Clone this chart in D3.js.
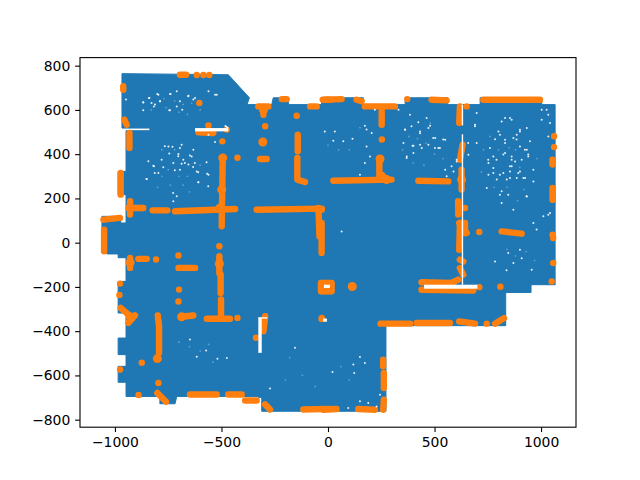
<!DOCTYPE html>
<html><head><meta charset="utf-8">
<script src="https://cdn.jsdelivr.net/npm/d3@7"></script>
<style>html,body{margin:0;background:#fff}svg{display:block}text{font-family:"DejaVu Sans",sans-serif}</style>
</head><body><svg id="c" width="640" height="480"></svg>
<script>
const xTicks=[-1000,-500,0,500,1000];
const yTicks=[-800,-600,-400,-200,0,200,400,600,800];
const blueOutline=[[-967,764],[-468,759],[-369,655],[-380,624],[-264,624],[-257,655],[-186,655],[-186,624],[-30,624],[-30,655],[166,655],[166,624],[362,624],[362,655],[562,655],[562,624],[714,624],[714,655],[1003,655],[1003,624],[1066,624],[1066,-190],[953,-190],[953,-225],[834,-225],[834,-375],[272,-375],[272,-762],[-311,-762],[-311,-700],[-327,-700],[-327,-695],[-710,-695],[-718,-728],[-789,-728],[-789,-695],[-948,-695],[-948,-631],[-985,-631],[-985,-559],[-948,-559],[-948,-506],[-985,-506],[-985,-431],[-948,-431],[-948,-318],[-985,-318],[-985,-175],[-948,-175],[-948,-68],[-985,-68],[-985,-51],[-1031,-51],[-1061,-45],[-1061,119],[-973,119],[-973,89],[-948,89],[-948,217],[-985,217],[-985,322],[-948,322],[-948,506],[-836,506],[-836,518],[-967,518]];
const orangeRuns=[
[[-695,759],[-666,759]],[[-961,707],[-961,691]],[[-956,556],[-945,533]],[[-303,609],[-303,578]],[[-327,616],[-280,616]],[[-217,649],[-194,649]],[[-84,616],[-53,616]],[[-14,646],[10,646]],[[-319,378],[-288,378]],[[-142,488],[-142,413]],[[-144,383],[-144,285],[-108,274]],[[-932,496],[-932,428]],[[-973,315],[-973,217]],[[-608,499],[-538,496]],[[-494,383],[-499,74]],[[-937,157],[-867,157]],[[-929,187],[-929,127]],[[-823,146],[-754,146]],[[-718,142],[-436,152]],[[-335,149],[-29,154]],[[-45,157],[-40,29]],[[-1054,104],[-976,112]],[[-1051,59],[-1051,-39]],
[[-929,-69],[-929,-114]],[[-890,-73],[-851,-73]],[[-702,-114],[-624,-114]],[[-510,-61],[-510,-137]],[[-504,-144],[-504,-227]],[[-973,-295],[-929,-332]],[[-937,-362],[-906,-329]],[[-799,-329],[-793,-378],[-793,-498]],[[-687,-335],[-632,-329]],[[-569,-344],[-460,-344]],[[-502,-257],[-502,-340]],[[-295,-332],[-303,-400]],[[-29,-182],[-29,-219],[10,-219]],[[-801,-679],[-760,-719]],[[-648,-686],[-522,-686]],[[-468,-686],[-405,-686]],[[-389,-713],[-335,-713]],[[-295,-731],[-272,-754]],[[-116,-754],[10,-751]],
[[-25,646],[64,649]],[[134,646],[158,639]],[[173,616],[314,616]],[[252,609],[252,533]],[[241,378],[241,300]],[[25,280],[298,285]],[[424,280],[565,277]],[[486,646],[557,643]],[[619,616],[616,541]],[[632,443],[619,375]],[[627,330],[627,240]],[[611,187],[611,127]],[[616,89],[651,44]],[[815,51],[909,41]],[[729,646],[995,646]],[[1054,375],[1054,353]],[[1054,247],[1054,194]],
[[-30,89],[-30,-47]],[[619,89],[616,-32]],[[643,89],[643,43]],[[619,-77],[635,-85]],[[619,-115],[635,-145]],[[611,-167],[580,-182]],[[439,-179],[580,-182]],[[439,-213],[682,-216]],[[-33,-182],[17,-182],[17,-220],[-33,-220],[-33,-182]],[[247,-366],[385,-366]],[[416,-363],[572,-363]],[[616,-356],[690,-366]],[[784,-366],[826,-341]],[[259,-529],[259,-559]],[[262,-589],[262,-657]],[[262,-710],[259,-755]],[[-22,-755],[40,-752]],[[142,-752],[220,-755]]];
const orangeDots=[[-616,758],[-585,758],[-557,758],[-604,631],[-147,574],[-295,526],[-561,530],[-475,511],[-496,458],[-425,384],[-807,-76],[-702,-58],[-510,-16],[-699,-212],[-702,-266],[-976,-185],[-979,-236],[-874,-543],[-976,-573],[-338,-430],[-29,-340],[-796,-634],[-889,-688],[-425,-340],[253,466],[372,649],[651,616],[643,157],[710,48],[1061,481],[1061,432],[1054,36],[-30,149],[710,-201],[809,-199],[1057,21],[1057,-92],[1050,-175],[114,-198],[-30,-345],[745,-366]];
const orangeBlobs=[[-306,455],[-494,383],[-507,157],[-929,-90],[-929,-335],[-801,-524],[-687,-335],[-510,-95],[-303,600],[244,378],[252,300],[275,285],[627,285],[-499,240],[114,-198]];
const gapPoints=[[-867,634],[-838,654],[-828,631],[-817,616],[-788,639],[-801,672],[-741,672],[-745,598],[-695,639],[-655,664],[-561,684],[-522,669],[-710,616],[-624,654],[-781,375],[-702,401],[-695,330],[-655,353],[-616,322],[-561,307],[-608,273],[-817,345],[-843,368],[-796,315],[-726,360],[-679,375],[-640,390],[-749,435],[-695,428],[-530,455],[-561,488],[-710,210],[-726,187],[-851,288],[-632,420],[25,461],[-15,503],[72,458],[115,470],[32,503],[181,511],[205,496],[181,435],[220,601],[173,529],[150,307],[173,360],[197,390],[361,511],[392,526],[432,503],[463,563],[494,473],[541,466],[397,438],[502,428],[432,443],[471,518],[369,383],[525,428],[580,345],[604,375],[557,300],[815,548],[854,563],[901,503],[791,375],[854,345],[862,390],[924,420],[940,398],[901,322],[823,315],[776,315],[752,375],[917,292],[854,292],[932,210],[815,232],[870,149],[815,179],[885,466],[831,450],[948,458],[1026,601],[1042,541],[1011,119],[1042,134],[979,59],[690,526],[658,450],[846,-47],[870,-92],[909,-70],[956,-122],[838,-125],[784,-85],[901,-32],[964,89],[1034,126],[64,51],[150,-517],[173,-544],[21,-585],[123,-589],[150,-717],[244,-687],[228,-740],[95,-747],[189,-725],[119,-551],[-648,-438],[-572,-487],[-519,-525],[-616,-516],[-475,-521],[-272,-659],[-155,-475],
[800,503],[807,488],[784,468],[831,405],[823,398],[760,428],[776,390],[753,360],[776,337],[807,307],[792,285],[839,285],[854,322],[862,345],[862,375],[878,367],[901,435],[933,420],[940,390],[893,315],[886,292],[925,292],[964,277],[964,330],[909,375],[933,209],[846,217],[807,217],[745,247],[753,307],[870,473],[886,488],[901,510],[831,465],[831,563],[862,556],[933,518],[1003,556],[1034,578],[690,533],[698,586],[698,450],[659,397],[1003,601],[1034,480],
[-773,341],[-745,403],[-703,391],[-648,394],[-687,443],[-820,348],[-813,315],[-719,327],[-687,357],[-672,360],[-633,342],[-570,363],[-609,318],[-567,311],[-609,273],[-727,225],[-852,288],[-766,436],[-730,433],[-625,360],[-562,255],
[-840,654],[-796,669],[-789,639],[-867,635],[-742,598],[-812,624],[-867,598],[-739,672],[-656,662],[-530,669],[-632,647],[-684,601],[-710,684],[-948,647],
[401,438],[479,529],[503,473],[471,443],[518,428],[432,495],[370,390],[401,405],[440,428],[362,510],[331,601],[385,578],[589,322],[550,330],[604,367],[424,544],[550,465],[354,450]];
const gapFaint=[[-760,610],[-720,640],[-680,625],[-640,630],[-600,600],[-770,650],[-830,600],[-700,590],[-660,580],[-780,300],[-750,330],[-700,300],[-660,300],[-740,260],[-800,250],[-600,350],[-680,260],[-650,230],[-720,420],[-780,420],[380,480],[420,470],[460,450],[500,400],[400,360],[450,350],[480,540],[350,420],[540,380],[760,480],[800,420],[850,430],[880,420],[900,340],[840,250],[780,250],[920,240],[890,190],[980,380],[730,420],[720,320],[50,420],[100,420],[0,440],[150,520],[840,-30],[880,-60],[930,-40],[970,-80],[-600,-490],[-650,-470],[-540,-540],[-560,-460],[-700,-450],[-180,-520],[-120,-600],[-60,-650],[60,-560],[100,-620],[-200,-620]];
const gapRects=[[-624,503,-468,518],[451,-208,701,-190],[-327,-498,-311,-340],[-19,-205,9,-190],[-23,-357,-5,-343]];
const gapLines=[[[631,624],[631,530]],[[631,490],[631,-190]],[[-468,518],[-485,530]],[[-327,-340],[-285,-340]]];

const W=640,H=480,L=80,R=576,T=57.6,B=427.2;
const x=d3.scaleLinear().domain([-1164,1164]).range([L,R]);
const y=d3.scaleLinear().domain([-834,836.5]).range([B,T]);
const svg=d3.select("#c");
const line=d3.line().x(d=>x(d[0])).y(d=>y(d[1]));
const blue="#1f77b4",orange="#ff7f0e";
svg.append("path").attr("d",line(blueOutline)+"Z").attr("fill",blue).attr("stroke",blue).attr("stroke-width",1).attr("stroke-linejoin","round");
svg.append("g").selectAll("path").data(orangeRuns).join("path").attr("d",d=>line(d)).attr("fill","none").attr("stroke",orange).attr("stroke-width",6.4).attr("stroke-linecap","round").attr("stroke-linejoin","round");
svg.append("g").selectAll("circle").data(orangeDots).join("circle").attr("cx",d=>x(d[0])).attr("cy",d=>y(d[1])).attr("r",3.2).attr("fill",orange);
svg.append("g").selectAll("circle").data(orangeBlobs).join("circle").attr("cx",d=>x(d[0])).attr("cy",d=>y(d[1])).attr("r",4.5).attr("fill",orange);
svg.append("g").selectAll("circle").data(gapFaint).join("circle").attr("cx",d=>x(d[0])).attr("cy",d=>y(d[1])).attr("r",0.9).attr("fill","#fff").attr("fill-opacity",0.3);
svg.append("g").selectAll("circle").data(gapPoints).join("circle").attr("cx",d=>x(d[0])).attr("cy",d=>y(d[1])).attr("r",1).attr("fill","#fff").attr("fill-opacity",0.9);
svg.append("g").selectAll("rect").data(gapRects).join("rect").attr("x",d=>x(d[0])).attr("y",d=>y(d[3])).attr("width",d=>x(d[2])-x(d[0])).attr("height",d=>y(d[1])-y(d[3])).attr("fill","#fff");
svg.append("g").selectAll("path").data(gapLines).join("path").attr("d",d=>line(d)).attr("fill","none").attr("stroke","#fff").attr("stroke-width",1.4);
const fmt=d=>String(d).replace("-","\u2212");
const ax=svg.append("g").attr("transform",`translate(0,${B})`).call(d3.axisBottom(x).tickValues(xTicks).tickFormat(fmt).tickSize(4.86).tickPadding(4.86));
const ay=svg.append("g").attr("transform",`translate(${L},0)`).call(d3.axisLeft(y).tickValues(yTicks).tickFormat(fmt).tickSize(4.86).tickPadding(4.86));
[ax,ay].forEach(g=>{g.select(".domain").remove();g.selectAll("line").attr("stroke","#000").attr("stroke-width",1.1);g.selectAll("text").attr("fill","#000").style("font-size","13.9px").style("font-family",'"DejaVu Sans",sans-serif');});
svg.append("rect").attr("x",L).attr("y",T).attr("width",R-L).attr("height",B-T).attr("fill","none").attr("stroke","#000").attr("stroke-width",1.1);
</script></body></html>
